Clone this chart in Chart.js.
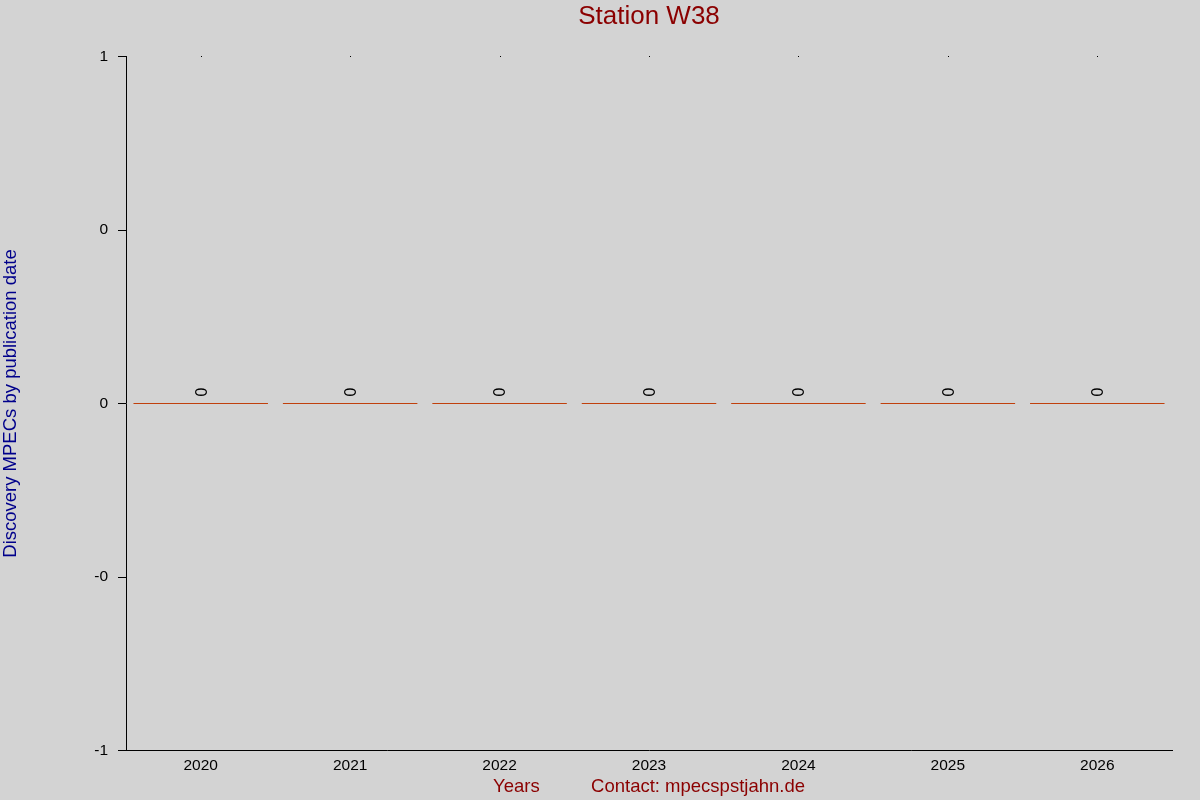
<!DOCTYPE html>
<html>
<head>
<meta charset="utf-8">
<script src="https://cdn.jsdelivr.net/npm/chart.js@4/dist/chart.umd.min.js"></script>
<style>
html,body{margin:0;padding:0;background:#d3d3d3;overflow:hidden;}
canvas{display:block;}
</style>
</head>
<body>
<canvas id="c" width="1200" height="800"></canvas>
<script>
const years = ["2020","2021","2022","2023","2024","2025","2026"];
const discoveryMPECs = [0,0,0,0,0,0,0];
const yTickLabels = ["-1","-0","0","0","1"];

const FONT = '"Liberation Sans", Arial, sans-serif';

const valueLabels = {
  id:'valueLabels',
  afterDatasetsDraw(chart){
    const ctx = chart.ctx;
    const meta = chart.getDatasetMeta(0);
    ctx.save();
    ctx.fillStyle = '#000';
    ctx.font = '16px ' + FONT;
    ctx.textAlign = 'center';
    ctx.textBaseline = 'middle';
    meta.data.forEach((bar,i)=>{
      const v = chart.data.datasets[0].data[i];
      ctx.save();
      ctx.translate(bar.x+1.5, Math.round(chart.scales.y.getPixelForValue(v)) - 12);
      ctx.rotate(-Math.PI/2);
      ctx.fillText(String(v), 0, 0);
      ctx.restore();
    });
    // small dots at top of plot at each category centre
    const xs = chart.scales.x;
    years.forEach((y,i)=>{
      ctx.fillRect(Math.round(xs.getPixelForValue(i)), Math.floor(chart.chartArea.top), 1, 1);
    });
    ctx.restore();
  }
};

const bg = {
  id:'bg',
  beforeDraw(chart){
    const ctx = chart.ctx;
    ctx.save();
    ctx.fillStyle = '#d3d3d3';
    ctx.fillRect(0,0,chart.width,chart.height);
    ctx.restore();
  }
};

new Chart(document.getElementById('c'), {
  type:'bar',
  data:{
    labels: years,
    datasets:[{
      data: discoveryMPECs,
      backgroundColor:'#c0400c',
      borderWidth:0,
      minBarLength:1,
      barPercentage:0.9,
      categoryPercentage:1.0
    }]
  },
  options:{
    responsive:false,
    animation:false,
    devicePixelRatio:1,
    layout:{padding:{left:0,right:28,top:0,bottom:0}},
    plugins:{
      legend:{display:false},
      tooltip:{enabled:false},
      title:{
        display:true,
        text:'Station W38',
        color:'#8b0000',
        fullSize:false,
        font:{family:FONT,size:26,weight:'normal',lineHeight:1},
        padding:{top:4,bottom:26.5}
      }
    },
    scales:{
      x:{
        grid:{drawOnChartArea:false,drawTicks:false},
        border:{display:true,color:'#000',width:1},
        ticks:{color:'#000',font:{family:FONT,size:15.5},padding:6,maxRotation:0},
        title:{display:true,text:'Years          Contact: mpecspstjahn.de',color:'#8b0000',font:{family:FONT,size:18.5},padding:{top:1,bottom:2}},
        afterFit(s){ s.height = 49.5; }
      },
      y:{
        min:-1,max:1,
        grid:{drawOnChartArea:false,drawTicks:true,tickLength:8,color:'#000'},
        border:{display:true,color:'#000',width:1},
        ticks:{stepSize:0.5,color:'#000',font:{family:FONT,size:15.5},padding:10,
          callback:(v,i)=>yTickLabels[i]},
        title:{display:true,text:'Discovery MPECs by publication date',color:'#00008b',font:{family:FONT,size:18.5},padding:{top:0,bottom:0}},
        afterFit(s){ s.width = 126; }
      }
    }
  },
  plugins:[bg,valueLabels]
});
</script>
</body>
</html>
